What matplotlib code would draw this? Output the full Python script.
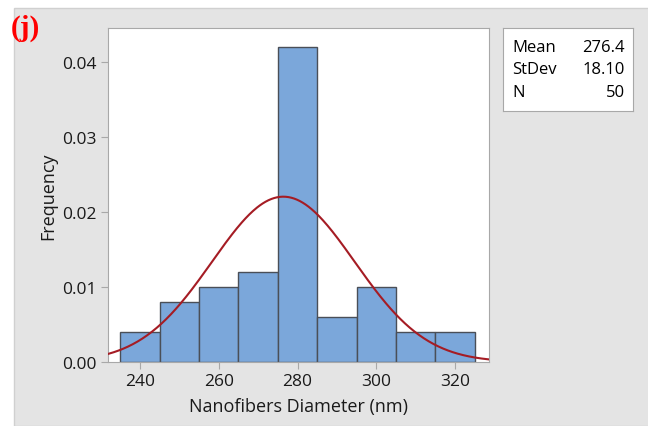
"""Histograma do diâmetro das nanofibras com curva normal ajustada."""

import matplotlib

matplotlib.use("Agg")
import matplotlib.pyplot as plt
import numpy as np
from matplotlib.patches import Rectangle

# limites das classes (nm) e densidade
bordas = [235, 245, 255, 265, 275, 285, 295, 305, 315, 325]
frequencias = [0.004, 0.008, 0.010, 0.012, 0.042, 0.006, 0.010, 0.004, 0.004]
media = 276.4
desvio = 18.10
n_amostras = 50

ticks_x = [240, 260, 280, 300, 320]
ticks_y = [0.00, 0.01, 0.02, 0.03, 0.04]

plt.rcParams["font.family"] = ["Open Sans", "DejaVu Sans"]

fig = plt.figure(figsize=(6.48, 4.27), dpi=100)
fig.patch.set_facecolor("white")
# painel cinza de fundo
fig.patches.append(Rectangle((14 / 648, 0), 1, (427 - 9) / 427,
                             transform=fig.transFigure, facecolor="#e4e4e4",
                             edgecolor="#d0d0d0", lw=1, zorder=-10))

ax = fig.add_axes([108 / 648, 64 / 427, 381 / 648, 334 / 427])
ax.set_facecolor("white")

larguras = np.diff(bordas)
ax.bar(bordas[:-1], frequencias, width=larguras, align="edge",
       color="#7ba7da", edgecolor="#4a4f57", linewidth=1.0, zorder=2)

xs = np.linspace(231.9, 328.6, 400)
ys = np.exp(-0.5 * ((xs - media) / desvio) ** 2) / (desvio * np.sqrt(2 * np.pi))
ax.plot(xs, ys, color="#a51c24", lw=1.5, zorder=3)

ax.set_xlim(231.9, 328.6)
ax.set_ylim(0, 0.04453)
ax.set_xticks(ticks_x)
ax.set_yticks(ticks_y)
ax.set_yticklabels([f"{v:.2f}" for v in ticks_y])
for lado in ax.spines.values():
    lado.set_color("#a8a8a8")
ax.tick_params(direction="out", length=5, color="#a8a8a8", pad=3,
               labelsize=12.5, labelcolor="#1a1a1a")
ax.set_xlabel("Nanofibers Diameter (nm)", fontsize=13, color="#1a1a1a",
              labelpad=6)
ax.set_ylabel("Frequency", fontsize=13, color="#1a1a1a", labelpad=4)

# caixa de estatísticas
caixa = fig.add_axes([503 / 648, (427 - 112) / 427, 130 / 648, 83 / 427])
caixa.set_xticks([])
caixa.set_yticks([])
for lado in caixa.spines.values():
    lado.set_color("#a8a8a8")
linhas = [("Mean", f"{media:.1f}"), ("StDev", f"{desvio:.2f}"), ("N", f"{n_amostras}")]
for i, (rotulo, valor) in enumerate(linhas):
    y = 0.77 - i * 0.27
    caixa.text(0.07, y, rotulo, fontsize=12, va="center", ha="left")
    caixa.text(0.94, y, valor, fontsize=12, va="center", ha="right")

fig.text(11 / 648, 1 - 28 / 427, "(j)", color="red", fontsize=21,
         fontweight="bold", family="Liberation Serif", va="center", ha="left")

plt.savefig("out.png", dpi=100)
plt.close()
